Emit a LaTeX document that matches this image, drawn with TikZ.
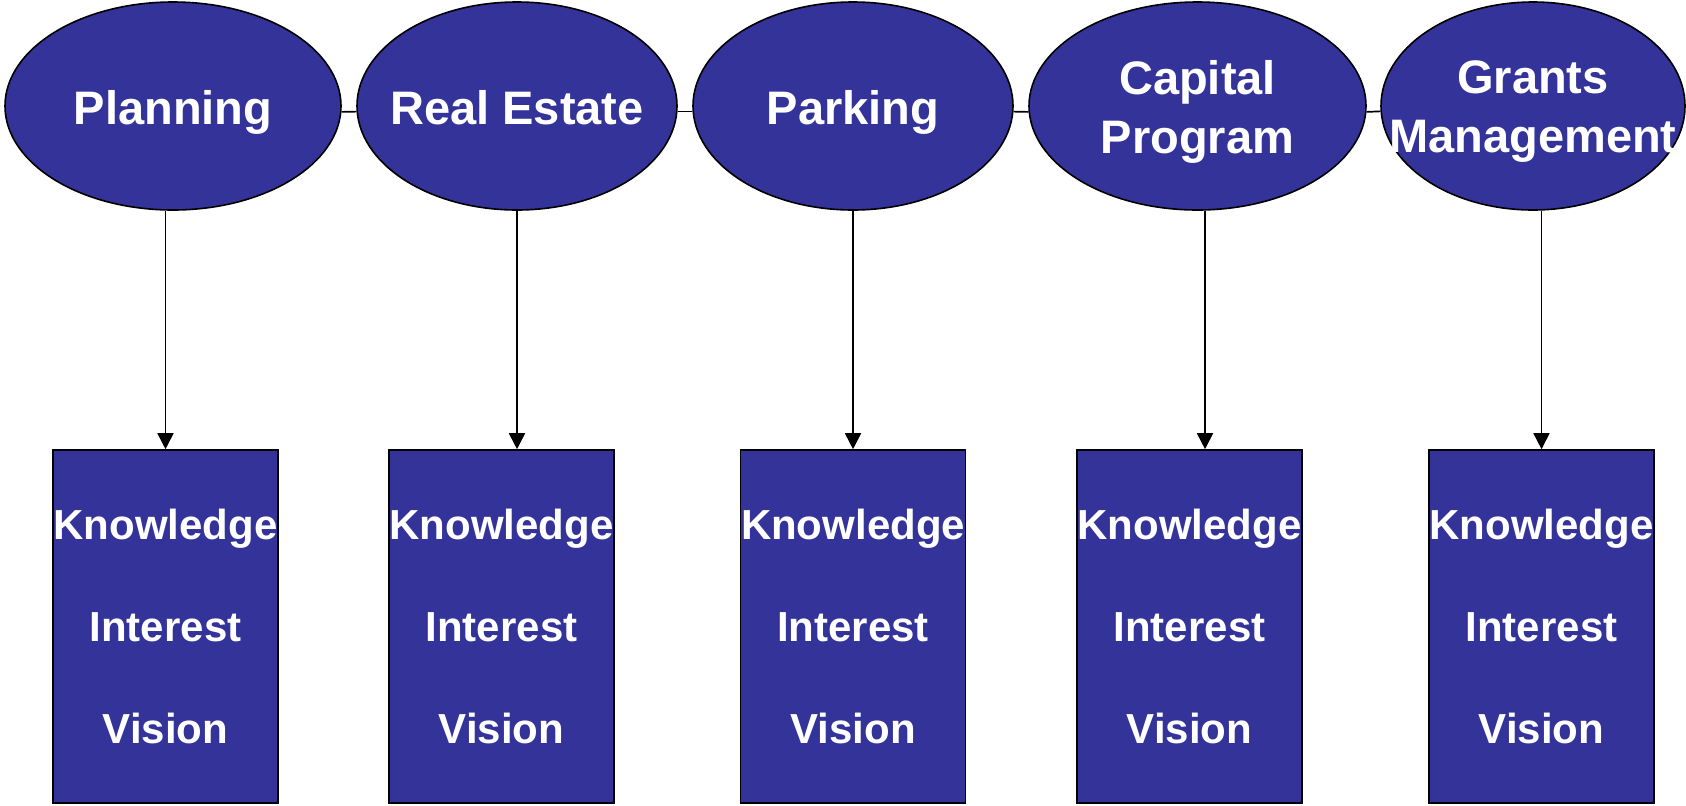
\documentclass[tikz,border=0pt]{standalone}
\usepackage{fontspec}
\setmainfont{Liberation Sans}
\usetikzlibrary{shapes.geometric,arrows.meta,calc}
\definecolor{pblue}{RGB}{51,51,153}
\begin{document}
\begin{tikzpicture}[x=0.5pt,y=-0.5pt,
  oval/.style={ellipse, draw=black, line width=0.8pt, fill=pblue, inner sep=0pt, minimum height=104pt},
  lbl/.style={text=white, font=\fontsize{23.5}{29.5}\selectfont\bfseries, align=center, inner sep=0pt},
  card/.style={draw=black, line width=0.8pt, fill=pblue, inner sep=0pt, minimum width=112.5pt, minimum height=176.5pt, text=white, font=\fontsize{21}{51}\selectfont\bfseries, align=center},
  link/.style={line width=0.85pt},
  arr/.style={line width=0.85pt, -{Triangle[width=8pt,length=8pt]}}]
\useasboundingbox (0,0) rectangle (1686,805);
% ovals
\node[oval, minimum width=168pt] (e1) at (173,106) {};
\node[oval, minimum width=160pt] (e2) at (517,106) {};
\node[oval, minimum width=160pt] (e3) at (853,106) {};
\node[oval, minimum width=168.5pt] (e4) at (1197.5,106) {};
\node[oval, minimum width=152pt] (e5) at (1533,106) {};
\node[lbl, anchor=base] (t1) at ($(e1.center)+(0,18)$) {Planning};
\node[lbl, anchor=base] (t2) at ($(e2.center)+(0,18)$) {Real Estate};
\node[lbl, anchor=base] (t3) at ($(e3.center)+(0,18)$) {Parking};
\node[lbl] (t4) at ($(e4.center)+(0,6)$) {Capital\\Program};
\node[lbl] (t5) at ($(e5.center)+(0,6)$) {Grants\\Management};
% links between ovals
\draw[link] (e1.-2.7) -- (e2.182.7);
\draw[link] (e2.-2.7) -- (e3.182.7);
\draw[link] (e3.-2.7) -- (e4.182.7);
\draw[link] (e4.-2.7) -- (e5.182.7);
% cards
\node[card] (r1) at (165.5,626.5) {Knowledge\\Interest\\Vision};
\node[card] (r2) at (501.5,626.5) {Knowledge\\Interest\\Vision};
\node[card] (r3) at (853,626.5) {Knowledge\\Interest\\Vision};
\node[card] (r4) at (1189.5,626.5) {Knowledge\\Interest\\Vision};
\node[card] (r5) at (1541.5,626.5) {Knowledge\\Interest\\Vision};
% arrow targets
\coordinate (p1) at (r1.north);
\coordinate (p2) at ($(r2.north)+(15.5,0)$);
\coordinate (p3) at (r3.north);
\coordinate (p4) at ($(r4.north)+(15.5,0)$);
\coordinate (p5) at (r5.north);
\draw[arr] (e1.south -| p1) -- (p1);
\draw[arr] (e2.south -| p2) -- (p2);
\draw[arr] (e3.south -| p3) -- (p3);
\draw[arr] (e4.south -| p4) -- (p4);
\draw[arr] (e5.south -| p5) -- (p5);
\end{tikzpicture}
\end{document}
